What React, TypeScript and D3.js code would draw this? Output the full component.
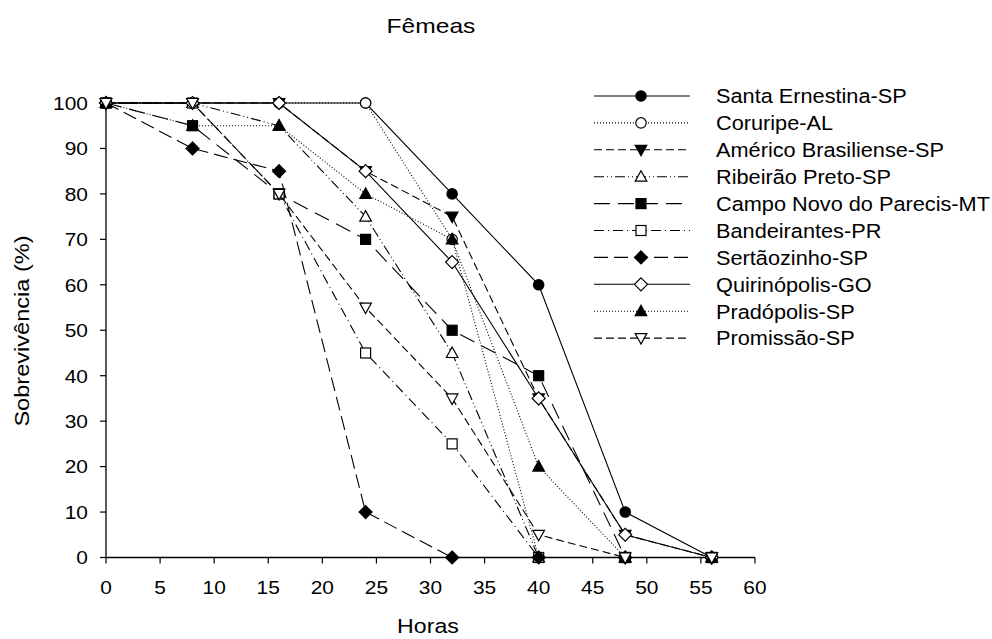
import React from "react";
import * as d3 from "d3";

const hours = [0, 8, 16, 24, 32, 40, 48, 56];
const seriesNames = [
  "Santa Ernestina-SP",
  "Coruripe-AL",
  "Américo Brasiliense-SP",
  "Ribeirão Preto-SP",
  "Campo Novo do Parecis-MT",
  "Bandeirantes-PR",
  "Sertãozinho-SP",
  "Quirinópolis-GO",
  "Pradópolis-SP",
  "Promissão-SP",
];
const santaErnestina = [100, 100, 100, 100, 80, 60, 10, 0];
const coruripe = [100, 100, 100, 100, 70, 0, 0, 0];
const americo = [100, 100, 100, 85, 75, 35, 5, 0];
const ribeirao = [100, 100, 95, 75, 45, 0, 0, 0];
const campoNovo = [100, 95, 80, 70, 50, 40, 0, 0];
const bandeirantes = [100, 100, 80, 45, 25, 0, 0, 0];
const sertaozinho = [100, 90, 85, 10, 0, 0, 0, 0];
const quirinopolis = [100, 100, 100, 85, 65, 35, 5, 0];
const pradopolis = [100, 95, 95, 80, 70, 20, 0, 0];
const promissao = [100, 100, 80, 55, 35, 5, 0, 0];
const seriesValues = [
  santaErnestina, coruripe, americo, ribeirao, campoNovo,
  bandeirantes, sertaozinho, quirinopolis, pradopolis, promissao,
];
const xTicks = [0, 5, 10, 15, 20, 25, 30, 35, 40, 45, 50, 55, 60];
const yTicks = [0, 10, 20, 30, 40, 50, 60, 70, 80, 90, 100];

type Style = { dash: string; shape: string; filled: boolean };
const styles: Style[] = [
  { dash: "", shape: "circle", filled: true },
  { dash: "1,2", shape: "circle", filled: false },
  { dash: "8,4", shape: "triDown", filled: true },
  { dash: "10,3,1,3,1,3", shape: "triUp", filled: false },
  { dash: "16,8", shape: "square", filled: true },
  { dash: "10,4,1,4", shape: "square", filled: false },
  { dash: "14,6", shape: "diamond", filled: true },
  { dash: "", shape: "diamond", filled: false },
  { dash: "1,2", shape: "triUp", filled: true },
  { dash: "8,4", shape: "triDown", filled: false },
];

const FONT = "'Liberation Sans', Arial, sans-serif";

function Marker({ shape, filled, cx, cy }: { shape: string; filled: boolean; cx: number; cy: number }) {
  const fill = filled ? "#000" : "#fff";
  const common = { fill, stroke: "#000", strokeWidth: 1.2 };
  if (shape === "circle") return <circle cx={cx} cy={cy} r={5.2} {...common} />;
  if (shape === "square") return <rect x={cx - 5} y={cy - 5} width={10} height={10} {...common} />;
  if (shape === "diamond")
    return <path d={`M${cx},${cy - 6.5}L${cx + 6.5},${cy}L${cx},${cy + 6.5}L${cx - 6.5},${cy}Z`} {...common} />;
  if (shape === "triUp")
    return <path d={`M${cx},${cy - 6}L${cx + 5.8},${cy + 4.5}L${cx - 5.8},${cy + 4.5}Z`} {...common} />;
  return <path d={`M${cx},${cy + 6}L${cx + 5.8},${cy - 4.5}L${cx - 5.8},${cy - 4.5}Z`} {...common} />;
}

function T({
  x, y, sx, size, anchor, children, rotate,
}: {
  x: number; y: number; sx: number; size: number; anchor?: string; children: React.ReactNode; rotate?: boolean;
}) {
  const tr = rotate
    ? `translate(${x},${y}) rotate(-90) scale(${sx},1)`
    : `translate(${x},${y}) scale(${sx},1)`;
  return (
    <text transform={tr} textAnchor={anchor || "start"} fontSize={size} dy="0.36em">
      {children}
    </text>
  );
}

export default function App() {
  const x = d3.scaleLinear().domain([0, 60]).range([106, 755]);
  const y = d3.scaleLinear().domain([0, 100]).range([557.5, 103]);
  const line = d3
    .line<[number, number]>()
    .x((d) => x(d[0]))
    .y((d) => y(d[1]));

  const legendX0 = 594;
  const legendX1 = 690;
  const legendMid = 641;
  const legendTextX = 716;
  const legendY0 = 96;
  const legendStep = 26.9;

  return (
    <svg
      width={992}
      height={639}
      style={{ position: "absolute", left: 0, top: 0, background: "#fff" }}
      fontFamily={FONT}
    >
      <rect width={992} height={639} fill="#fff" />
      <T x={431} y={26} sx={1.2} size={20.5} anchor="middle">Fêmeas</T>

      {/* axes */}
      <line x1={x(0)} x2={x(0)} y1={y(100) - 1} y2={y(0)} stroke="#000" strokeWidth={1.3} />
      <line x1={x(0)} x2={x(60)} y1={y(0)} y2={y(0)} stroke="#000" strokeWidth={1.3} />
      {yTicks.map((t) => (
        <g key={"y" + t}>
          <line x1={x(0) - 6} x2={x(0)} y1={y(t)} y2={y(t)} stroke="#000" strokeWidth={1.2} />
          <T x={88} y={y(t)} sx={1.1} size={19} anchor="end">{t}</T>
        </g>
      ))}
      {xTicks.map((t) => (
        <g key={"x" + t}>
          <line x1={x(t)} x2={x(t)} y1={y(0)} y2={y(0) + 6} stroke="#000" strokeWidth={1.2} />
          <T x={x(t)} y={587} sx={1.1} size={19} anchor="middle">{t}</T>
        </g>
      ))}
      <T x={428} y={626} sx={1.13} size={20.5} anchor="middle">Horas</T>
      <T x={22} y={331} sx={1.15} size={20.5} anchor="middle" rotate>Sobrevivência (%)</T>

      {/* series */}
      {seriesValues.map((vals, i) => {
        const st = styles[i];
        const pts = hours.map((h, j) => [h, vals[j]] as [number, number]);
        return (
          <g key={"s" + i}>
            <path
              d={line(pts) || ""}
              fill="none"
              stroke="#000"
              strokeWidth={1.1}
              strokeDasharray={st.dash || undefined}
            />
            {pts.map((p, j) => (
              <Marker key={j} shape={st.shape} filled={st.filled} cx={x(p[0])} cy={y(p[1])} />
            ))}
          </g>
        );
      })}

      {/* legend */}
      {seriesNames.map((name, i) => {
        const st = styles[i];
        const ly = legendY0 + i * legendStep;
        return (
          <g key={"l" + i}>
            <line
              x1={legendX0}
              x2={legendX1}
              y1={ly}
              y2={ly}
              stroke="#000"
              strokeWidth={1.1}
              strokeDasharray={st.dash || undefined}
            />
            <Marker shape={st.shape} filled={st.filled} cx={legendMid} cy={ly} />
            <T x={legendTextX} y={ly} sx={1.07} size={20.3}>{name}</T>
          </g>
        );
      })}
    </svg>
  );
}
